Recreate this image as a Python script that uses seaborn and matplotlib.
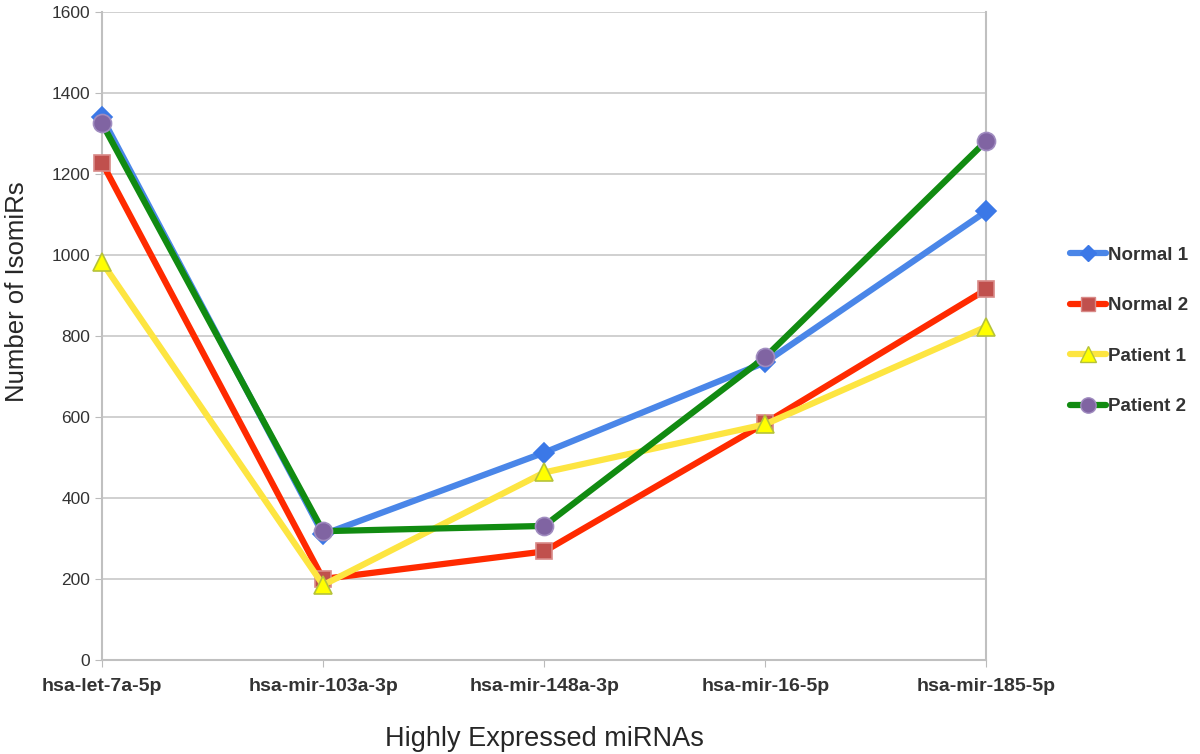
import pandas as pd
import matplotlib
matplotlib.use("Agg")
import matplotlib.pyplot as plt
import seaborn as sns
from matplotlib.lines import Line2D

# Dados
mirnas = ["hsa-let-7a-5p", "hsa-mir-103a-3p", "hsa-mir-148a-3p", "hsa-mir-16-5p", "hsa-mir-185-5p"]
normal_1 = [1340, 310, 512, 735, 1108]
normal_2 = [1228, 200, 268, 585, 915]
patient_1 = [982, 185, 463, 582, 823]
patient_2 = [1325, 318, 331, 748, 1282]

series = ["Normal 1", "Normal 2", "Patient 1", "Patient 2"]
valores = [normal_1, normal_2, patient_1, patient_2]

# estilos: cor da linha, marcador, cor do marcador, borda do marcador, tamanho
estilos = {
    "Normal 1": ("#4a86e8", "D", "#3b78e7", "#3b78e7", 10),
    "Normal 2": ("#ff2a00", "s", "#c0504d", "#d98a88", 12),
    "Patient 1": ("#fde541", "^", "#ffff00", "#b5c23a", 13),
    "Patient 2": ("#118b11", "o", "#8064a2", "#a08cc0", 13),
}

linhas = []
for nome, vals in zip(series, valores):
    for i, v in enumerate(vals):
        linhas.append({"miRNA": i, "Serie": nome, "IsomiRs": v})
df = pd.DataFrame(linhas)

sns.set_style("white")
plt.rcParams["font.family"] = ["Liberation Sans", "DejaVu Sans"]

fig = plt.figure(figsize=(12, 7.54), dpi=100)
ax = fig.add_axes([0.085, 0.1247, 0.737, 0.8594])

for nome in series:
    cor, mk, fc, ec, ms = estilos[nome]
    sns.lineplot(data=df[df["Serie"] == nome], x="miRNA", y="IsomiRs", ax=ax,
                 color=cor, linewidth=4.5, marker=mk, markersize=ms,
                 markerfacecolor=fc, markeredgecolor=ec, markeredgewidth=1.2,
                 clip_on=False, legend=False, zorder=3)

ax.set_xlim(0, 4)
ax.set_ylim(0, 1600)
ax.set_yticks(range(0, 1601, 200))
ax.set_xticks(range(len(mirnas)))
ax.set_xticklabels(mirnas, fontsize=14, fontweight="bold", color="#333333")
ax.tick_params(axis="y", labelsize=12.5, labelcolor="#333333", length=5, color="#bbbbbb", direction="out", left=True)
ax.tick_params(axis="x", length=5, color="#bbbbbb", direction="out", bottom=True, pad=8)
ax.grid(axis="y", color="#c8c8c8", linewidth=1.2)
ax.set_axisbelow(True)
for s in ["left", "bottom", "right"]:
    ax.spines[s].set_color("#c0c0c0")
    ax.spines[s].set_linewidth(1.5)
ax.spines["top"].set_visible(False)

ax.set_xlabel("Highly Expressed miRNAs", fontsize=19.5, labelpad=22)
ax.set_ylabel("Number of IsomiRs", fontsize=18.5)
ax.yaxis.set_label_coords(-0.083, 0.569)

handles = []
for nome in series:
    cor, mk, fc, ec, ms = estilos[nome]
    handles.append(Line2D([], [], color=cor, linewidth=4.5, marker=mk, markersize=ms * 0.85,
                          markerfacecolor=fc, markeredgecolor=ec))
leg = fig.legend(handles, series, loc="center left", bbox_to_anchor=(0.878, 0.561),
                 frameon=False, handlelength=1.9, handletextpad=0.1, labelspacing=1.78,
                 prop={"size": 13.5, "weight": "bold"})
for t in leg.get_texts():
    t.set_color("#333333")

fig.savefig("out.png", dpi=100)
